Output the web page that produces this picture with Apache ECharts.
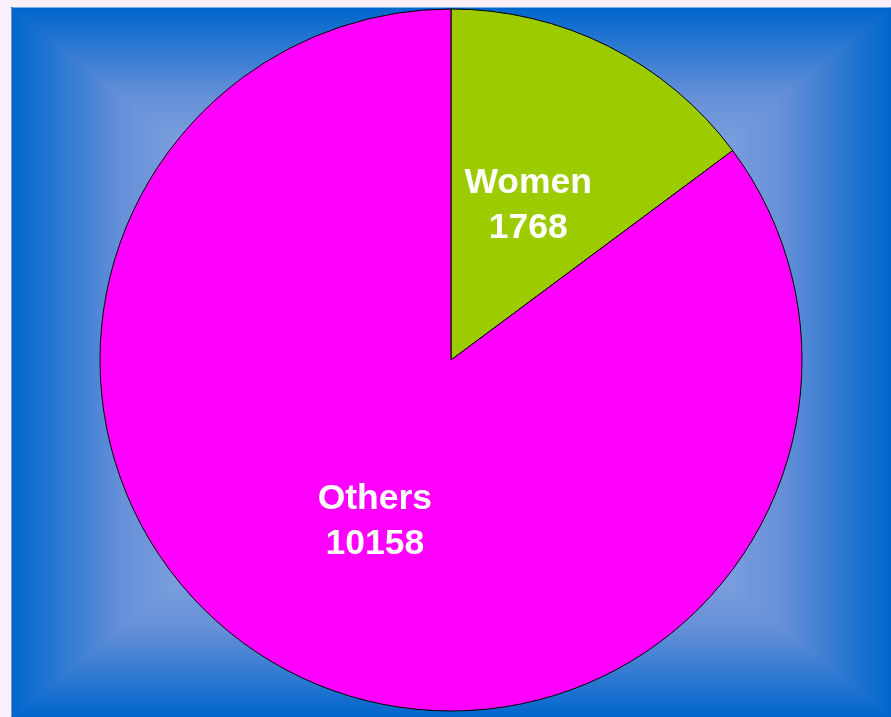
<!DOCTYPE html>
<html>
<head>
<meta charset="utf-8">
<script src="https://cdn.jsdelivr.net/npm/echarts@6/dist/echarts.min.js"></script>
<style>
html,body{margin:0;padding:0;background:#fdf0fd;}
#chart{width:891px;height:717px;}
</style>
</head>
<body>
<div id="chart"></div>
<script>
const categories = ['Women', 'Others'];
const values = [1768, 10158];
const sliceColors = ['#9ccc00', '#ff00ff'];

const chart = echarts.init(document.getElementById('chart'));
const x0 = 12, y0 = 8, x1 = 891, y1 = 717;
const cx = 451.5, cy = 362.5;
const stops = [
  {offset: 0, color: '#0066cc'},
  {offset: 0.25, color: '#6690d8'},
  {offset: 0.45, color: '#86a6e2'},
  {offset: 1, color: '#a8c2f0'}
];
function grad(xa, ya, xb, yb) {
  return {type: 'linear', x: xa, y: ya, x2: xb, y2: yb, global: true, colorStops: stops};
}
function tri(pts, g) {
  return {type: 'polygon', shape: {points: pts}, style: {fill: g, stroke: g, lineWidth: 1.2}, z: -10, silent: true};
}
const bg = [
  {type: 'rect', shape: {x: x0, y: y0, width: x1 - x0, height: y1 - y0}, style: {fill: '#5f8cd6'}, z: -11, silent: true},
  tri([[x0, y0], [x1, y0], [cx, cy]], grad(0, y0, 0, cy)),
  tri([[x0, y1], [x1, y1], [cx, cy]], grad(0, y1, 0, cy)),
  tri([[x0, y0], [x0, y1], [cx, cy]], grad(x0, 0, cx, 0)),
  tri([[x1, y0], [x1, y1], [cx, cy]], grad(x1, 0, cx, 0))
];
const labelOffsets = [[-3, 5], [4, 2]];

chart.setOption({
  animation: false,
  backgroundColor: '#fdf0fd',
  graphic: bg,
  series: [{
    type: 'pie',
    center: [451, 360],
    radius: [0, 351],
    startAngle: 90,
    clockwise: true,
    silent: true,
    data: categories.map((c, i) => ({
      name: c, value: values[i],
      itemStyle: {color: sliceColors[i]},
      label: {offset: labelOffsets[i]}
    })),
    itemStyle: {borderColor: '#000000', borderWidth: 1},
    label: {
      position: 'inside',
      formatter: '{b}\n{c}',
      color: '#ffffff',
      fontFamily: 'Liberation Sans, Arial, sans-serif',
      fontWeight: 'bold',
      fontSize: 35.5,
      lineHeight: 45
    },
    labelLine: {show: false},
    emphasis: {disabled: true}
  }]
});
</script>
</body>
</html>
